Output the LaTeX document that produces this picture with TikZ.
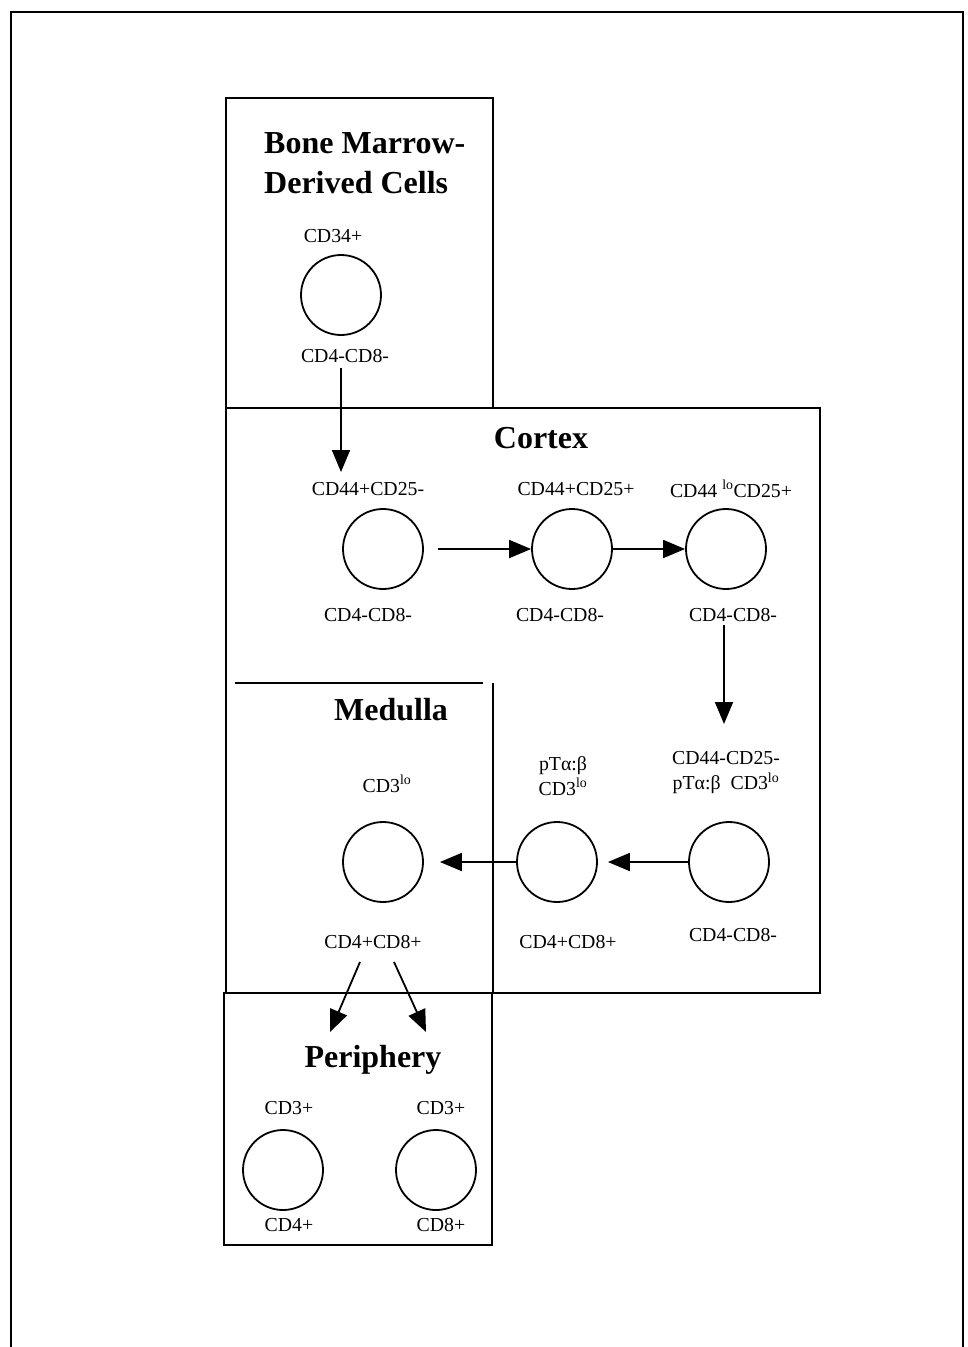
\documentclass[tikz,border=0pt]{standalone}
\usepackage{fontspec}
\setmainfont{Liberation Serif}
\usetikzlibrary{arrows.meta}
\begin{document}
\begin{tikzpicture}[x=1pt,y=-1pt,
  cell/.style={circle,draw,line width=1.8pt,minimum size=80pt,inner sep=0pt},
  lbl/.style={inner sep=0pt,font=\fontsize{19.8}{25}\selectfont,align=center},
  ttl/.style={inner sep=0pt,font=\fontsize{32}{40}\selectfont\bfseries},
  region/.style={line width=1.8pt},
  arr/.style={line width=1.8pt,-{Triangle[length=22pt,width=18pt]}}]
\useasboundingbox (0,0) rectangle (968,1347);
% outer frame
\draw[line width=2pt] (11,1347) -- (11,12) -- (963,12) -- (963,1347);
% regions
\draw[region] (226,408) -- (226,98) -- (493,98) -- (493,408);
\draw[region] (226,408) rectangle (820,993);
\draw[region] (224,993) rectangle (492,1245);
\draw[line width=2.4pt] (235,683) -- (483,683);
\draw[region] (493,683) -- (493,993);
% titles
\node[ttl,align=left,anchor=west] (tbm) at (264,163) {Bone Marrow-\\Derived Cells};
\node[ttl] (tcx) at (541,438) {Cortex};
\node[ttl] (tmd) at (391,710) {Medulla};
\node[ttl] (tpe) at (373,1060) {Periphery};
% cells
\node[cell] (c0) at (341,295) {};
\node[cell] (c1) at (383,549) {};
\node[cell] (c2) at (572,549) {};
\node[cell] (c3) at (726,549) {};
\node[cell] (c4) at (383,862) {};
\node[cell] (c5) at (557,862) {};
\node[cell] (c6) at (729,862) {};
\node[cell] (p1) at (283,1170) {};
\node[cell] (p2) at (436,1170) {};
% labels
\node[lbl] (l0a) at (333,236) {CD34+};
\node[lbl] (l0b) at (345,356) {CD4-CD8-};
\node[lbl] (l1a) at (368,489) {CD44+CD25-};
\node[lbl] (l2a) at (576,489) {CD44+CD25+};
\node[lbl] (l3a) at (731,489) {CD44 \textsuperscript{lo}CD25+};
\node[lbl] (l1b) at (368,615) {CD4-CD8-};
\node[lbl] (l2b) at (560,615) {CD4-CD8-};
\node[lbl] (l3b) at (733,615) {CD4-CD8-};
\node[lbl] (l4a) at (387,784) {CD3\textsuperscript{lo}};
\node[lbl] (l5a) at (563,776) {pTα:β\\CD3\textsuperscript{lo}};
\node[lbl] (l6a) at (726,773) {CD44-CD25-\\pTα:β\ \ CD3\textsuperscript{lo}};
\node[lbl] (l4b) at (373,942) {CD4+CD8+};
\node[lbl] (l5b) at (568,942) {CD4+CD8+};
\node[lbl] (l6b) at (733,935) {CD4-CD8-};
\node[lbl] (lp1a) at (289,1108) {CD3+};
\node[lbl] (lp2a) at (441,1108) {CD3+};
\node[lbl] (lp1b) at (289,1225) {CD4+};
\node[lbl] (lp2b) at (441,1225) {CD8+};
% arrow end points
\coordinate (a0s) at (341,368);
\coordinate (a0e) at (341,472);
\coordinate (a3s) at (724,625);
\coordinate (a3e) at (724,724);
\coordinate (d1s) at (360,962);
\coordinate (d1e) at (330,1032);
\coordinate (d2s) at (394,962);
\coordinate (d2e) at (426,1032);
% arrows
\draw[arr] (a0s) -- (a0e);
\draw[arr] ([xshift=14pt]c1.east) -- (c2.west);
\draw[arr] (c2.east) -- (c3.west);
\draw[arr] (a3s) -- (a3e);
\draw[arr] (c6.west) -- ([xshift=10pt]c5.east);
\draw[arr] (c5.west) -- ([xshift=16pt]c4.east);
\draw[arr] (d1s) -- (d1e);
\draw[arr] (d2s) -- (d2e);
\end{tikzpicture}
\end{document}
